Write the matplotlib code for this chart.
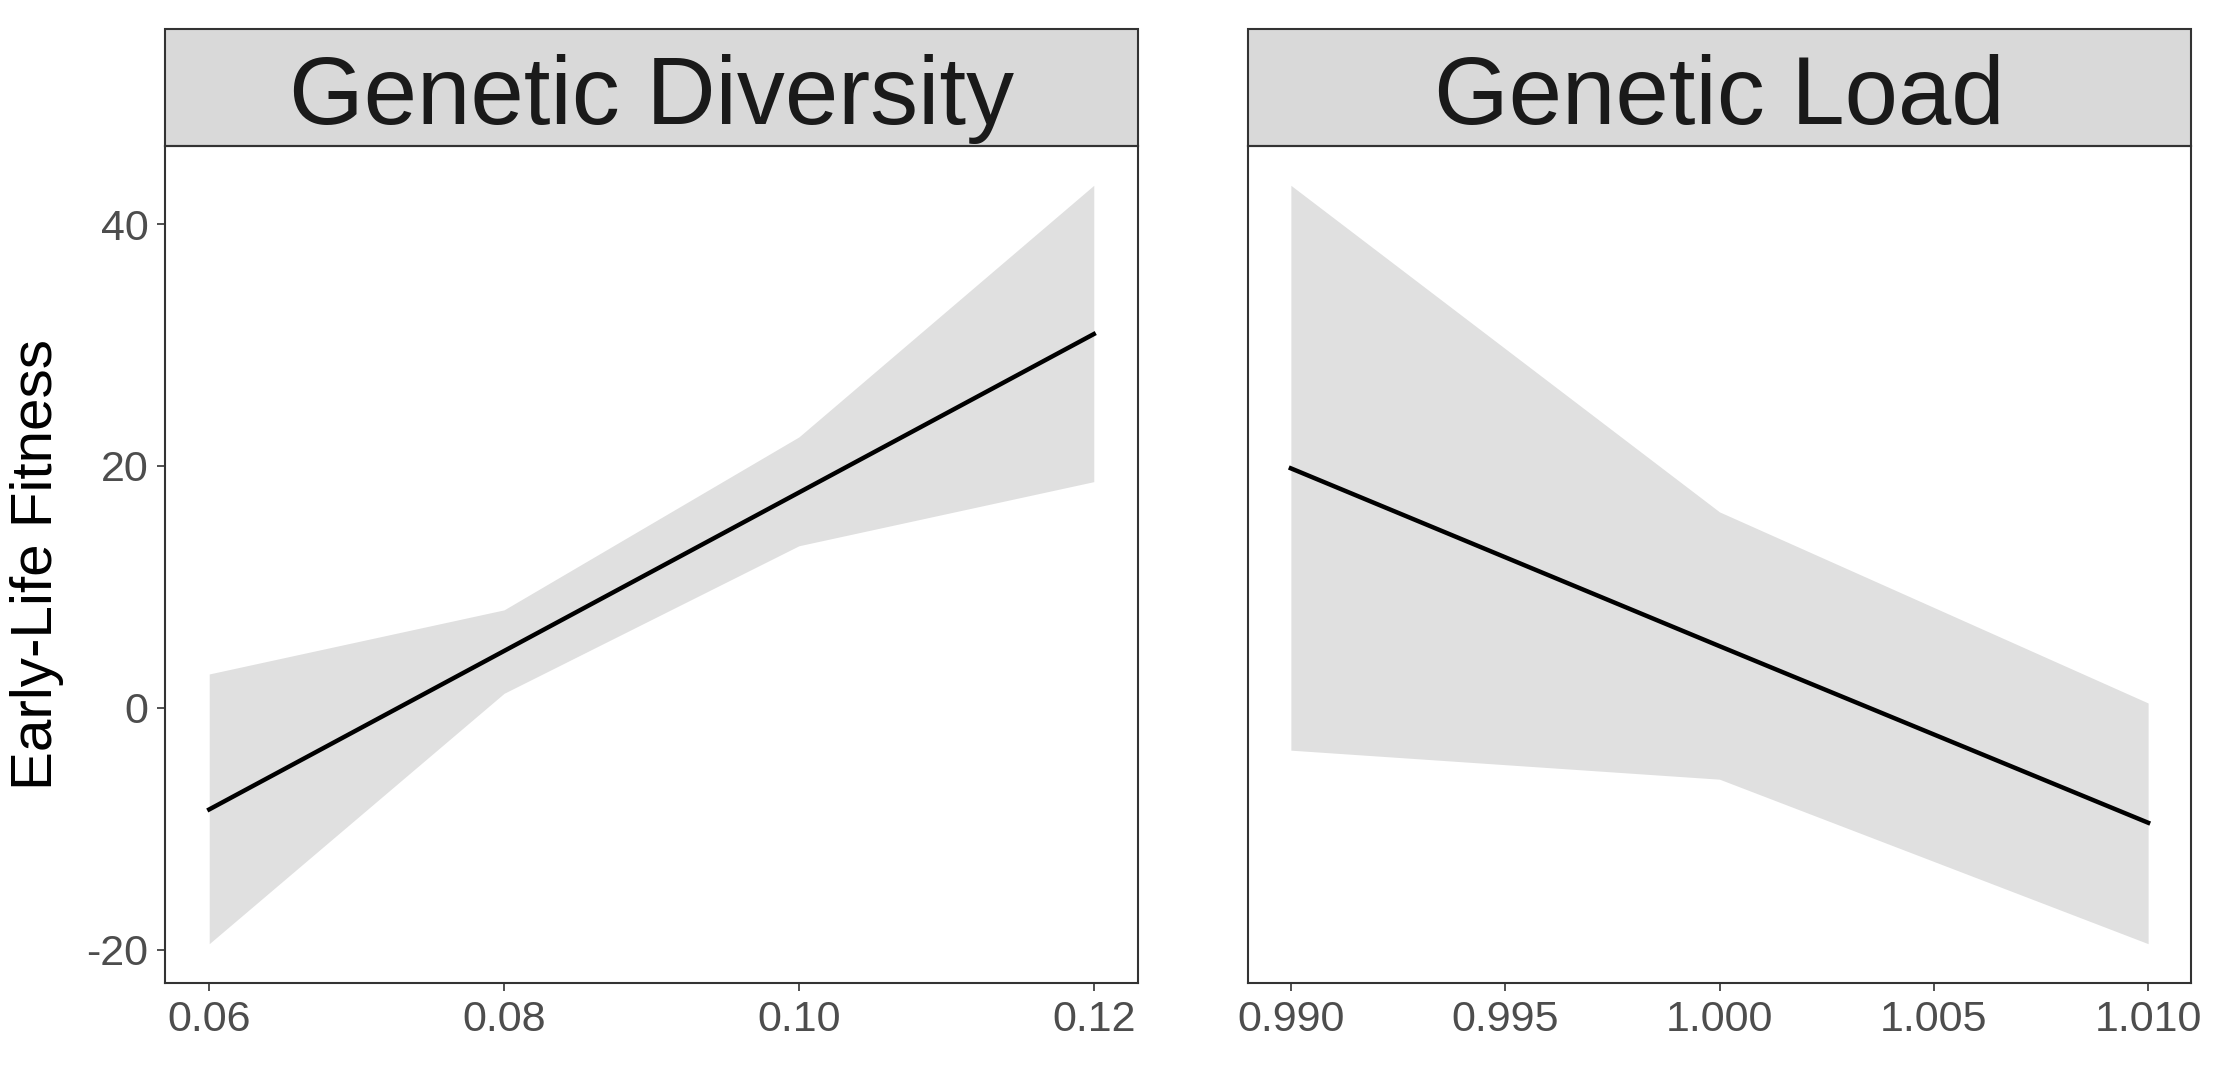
import matplotlib
matplotlib.use('Agg')
import matplotlib.pyplot as plt
from matplotlib.patches import Rectangle

plt.rcParams['font.family'] = ['Liberation Sans', 'DejaVu Sans']
plt.rcParams['axes.unicode_minus'] = False

# Panel 1: genetic diversity
div_x = [0.06, 0.08, 0.10, 0.12]
div_fit = [-8.4, 4.7, 17.8, 30.9]
div_lower = [-19.5, 1.2, 13.4, 18.7]
div_upper = [2.8, 8.1, 22.4, 43.2]
div_ticks = [0.06, 0.08, 0.10, 0.12]
div_labels = ['0.06', '0.08', '0.10', '0.12']

# Panel 2: genetic load
load_x = [0.990, 1.000, 1.010]
load_fit = [19.8, 5.1, -9.5]
load_lower = [-3.5, -5.9, -19.5]
load_upper = [43.2, 16.2, 0.4]
load_ticks = [0.990, 0.995, 1.000, 1.005, 1.010]
load_labels = ['0.990', '0.995', '1.000', '1.005', '1.010']

y_ticks = [-20, 0, 20, 40]
titles = ['Genetic Diversity', 'Genetic Load']

W, H = 2213, 1072
fig = plt.figure(figsize=(W / 100, H / 100), dpi=100)

bottom = 1 - 983 / H
height = (983 - 146) / H
ax1 = fig.add_axes([165 / W, bottom, (1138 - 165) / W, height])
ax2 = fig.add_axes([1248 / W, bottom, (2191 - 1248) / W, height])

panels = [
    (ax1, div_x, div_fit, div_lower, div_upper, div_ticks, div_labels),
    (ax2, load_x, load_fit, load_lower, load_upper, load_ticks, load_labels),
]

strip_h = 117 / (983 - 146)
for i, (ax, x, fit, lo, hi, ticks, labels) in enumerate(panels):
    ax.fill_between(x, lo, hi, color='#E0E0E0', linewidth=0)
    ax.plot(x, fit, color='black', lw=3.2)
    span = x[-1] - x[0]
    ax.set_xlim(x[0] - 0.05 * span, x[-1] + 0.05 * span)
    ax.set_ylim(-22.75, 46.45)
    ax.set_xticks(ticks)
    ax.set_xticklabels(labels)
    ax.set_yticks(y_ticks)
    ax.tick_params(axis='both', labelsize=31, labelcolor='#4D4D4D', color='#333333',
                   length=6, width=1.2, pad=6)
    for s in ax.spines.values():
        s.set_color('#333333')
        s.set_linewidth(1.5)
    if i == 1:
        ax.tick_params(axis='y', left=False, labelleft=False)
    # facet strip
    ax.add_patch(Rectangle((0, 1), 1, strip_h, transform=ax.transAxes, facecolor='#D9D9D9',
                           edgecolor='#333333', linewidth=1.5, clip_on=False))
    ax.text(0.5, 1 + (983 - 124) / 837 - 1, titles[i], transform=ax.transAxes, ha='center',
            va='baseline', fontsize=69, color='#1A1A1A')

fig.text(37 / W, 1 - 564 / H, 'Early-Life Fitness', rotation=90, ha='center', va='center',
         fontsize=42, color='black')

fig.savefig('out.png', dpi=100)
